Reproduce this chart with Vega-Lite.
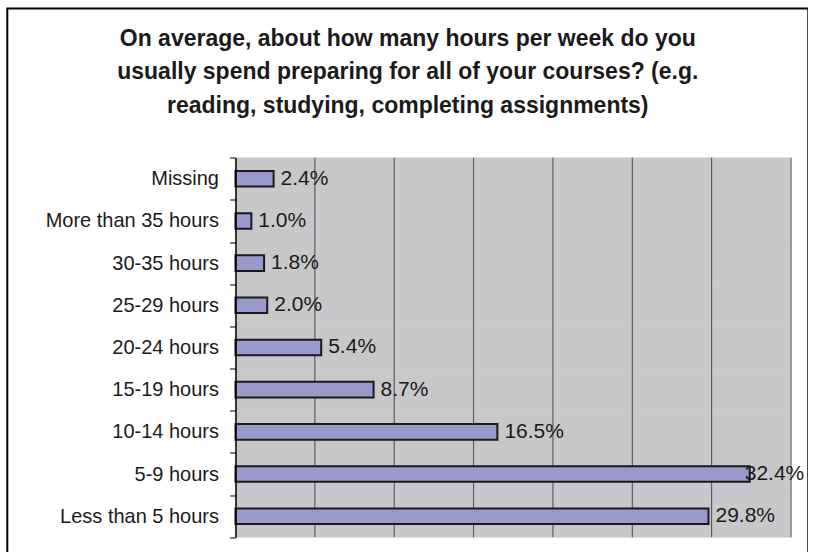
{
  "$schema": "https://vega.github.io/schema/vega-lite/v6.json",
  "width": 801,
  "height": 545.5,
  "autosize": "none",
  "padding": {"left": 7.3, "top": 8.5, "right": 0, "bottom": 0},
  "background": "#ffffff",
  "title": {
    "text": ["On average, about how many hours per week do you", "usually spend preparing for all of your courses? (e.g.", "reading, studying, completing assignments)"],
    "font": "Liberation Sans",
    "fontSize": 23,
    "fontWeight": "bold",
    "color": "#1a1a1a",
    "anchor": "middle",
    "frame": "group",
    "lineHeight": 34,
    "offset": 0,
    "dy": 120
  },
  "config": {
    "view": {"stroke": "#000000", "strokeWidth": 2, "fill": "#ffffff"},
    "font": "Liberation Sans"
  },
  "data": {
    "values": [
      {"category": "Missing", "value": 0.024},
      {"category": "More than 35 hours", "value": 0.010},
      {"category": "30-35 hours", "value": 0.018},
      {"category": "25-29 hours", "value": 0.020},
      {"category": "20-24 hours", "value": 0.054},
      {"category": "15-19 hours", "value": 0.087},
      {"category": "10-14 hours", "value": 0.165},
      {"category": "5-9 hours", "value": 0.324},
      {"category": "Less than 5 hours", "value": 0.298}
    ]
  },
  "layer": [
    {
      "mark": {"type": "rect", "fill": "#c8c8ca", "stroke": "#c8c8ca", "strokeWidth": 0.5},
      "encoding": {
        "y": {
          "field": "category",
          "type": "nominal",
          "sort": null,
          "scale": {
            "domain": ["Missing", "More than 35 hours", "30-35 hours", "25-29 hours", "20-24 hours", "15-19 hours", "10-14 hours", "5-9 hours", "Less than 5 hours"],
            "range": [149.2, 528.8],
            "paddingInner": 0,
            "paddingOuter": 0
          },
          "axis": {
            "title": null,
            "orient": "left",
            "offset": -228.2,
            "tickBand": "extent",
            "tickSize": 6,
            "tickColor": "#000000",
            "tickWidth": 1,
            "domainColor": "#000000",
            "domainWidth": 1.5,
            "labelFont": "Liberation Sans",
            "labelFontSize": 20,
            "labelColor": "#1a1a1a",
            "labelPadding": 11,
            "grid": false
          }
        },
        "x": {
          "datum": 0,
          "type": "quantitative",
          "scale": {"domain": [0, 0.35], "range": [228.2, 783.7], "nice": false, "zero": true},
          "axis": null
        },
        "x2": {"datum": 0.35}
      }
    },
    {
      "data": {"values": [{"grid": 0.05}, {"grid": 0.10}, {"grid": 0.15}, {"grid": 0.20}, {"grid": 0.25}, {"grid": 0.30}]},
      "mark": {"type": "tick", "orient": "vertical", "size": 379.6, "thickness": 1, "color": "#4a4a4a", "opacity": 1},
      "encoding": {
        "x": {"field": "grid", "type": "quantitative"},
        "y": {"datum": "20-24 hours", "type": "nominal"}
      }
    },
    {
      "data": {"values": [{"grid": 0.35}]},
      "mark": {"type": "tick", "orient": "vertical", "size": 379.6, "thickness": 2, "color": "#9a9a9c", "opacity": 1},
      "encoding": {
        "x": {"field": "grid", "type": "quantitative"},
        "y": {"datum": "20-24 hours", "type": "nominal"}
      }
    },
    {
      "mark": {"type": "bar", "height": {"band": 0.37}, "fill": "#9999cc", "stroke": "#1a1a1a", "strokeWidth": 2},
      "encoding": {
        "x": {"field": "value", "type": "quantitative"},
        "y": {"field": "category", "type": "nominal", "sort": null}
      }
    },
    {
      "transform": [{"filter": "datum.value < 0.31"}],
      "mark": {"type": "text", "align": "left", "baseline": "middle", "dx": 7, "font": "Liberation Sans", "fontSize": 21, "color": "#1a1a1a"},
      "encoding": {
        "x": {"field": "value", "type": "quantitative"},
        "y": {"field": "category", "type": "nominal", "sort": null},
        "text": {"field": "value", "type": "quantitative", "format": ".1%"}
      }
    },
    {
      "transform": [{"filter": "datum.value >= 0.31"}],
      "mark": {"type": "text", "align": "left", "baseline": "middle", "dx": -5, "font": "Liberation Sans", "fontSize": 21, "color": "#1a1a1a"},
      "encoding": {
        "x": {"field": "value", "type": "quantitative"},
        "y": {"field": "category", "type": "nominal", "sort": null},
        "text": {"field": "value", "type": "quantitative", "format": ".1%"}
      }
    }
  ]
}
